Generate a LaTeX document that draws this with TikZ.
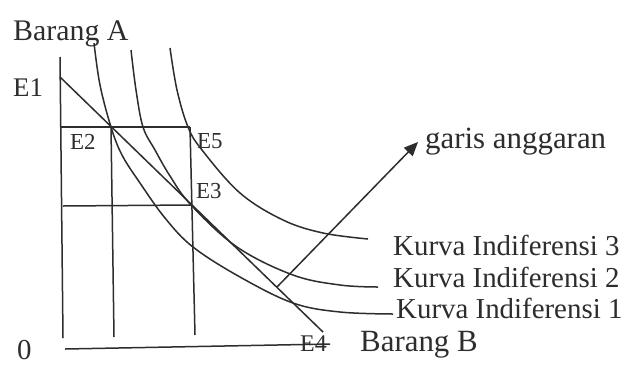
\documentclass[tikz,border=0pt]{standalone}
\usepackage{fontspec}
\setmainfont{Liberation Serif}
\usetikzlibrary{arrows.meta}
\definecolor{ink}{RGB}{45,45,45}
\tikzset{
  ln/.style={draw=ink, line width=1.5bp},
  lbl/.style={anchor=base west, inner sep=0pt, text=ink},
  big/.style={font=\fontsize{30}{32}\selectfont},
  mid/.style={font=\fontsize{29}{31}\selectfont},
  sml/.style={font=\fontsize{23}{25}\selectfont}
}
\begin{document}
\begin{tikzpicture}[x=1bp,y=-1bp]
\useasboundingbox[fill=white] (0,0) rectangle (625,365);
% key points
\coordinate (Atop) at (60,57);
\coordinate (Abot) at (63,338);
\coordinate (Bl) at (65,349);
\coordinate (Br) at (330,344);
\coordinate (E1p) at (60,77);
\coordinate (E4p) at (323,332);
\coordinate (H1l) at (60,127);
\coordinate (E2p) at (111,127);
\coordinate (E5p) at (190,127);
\coordinate (H2l) at (63,206);
\coordinate (E3p) at (191,205);
\coordinate (V1b) at (114,337);
\coordinate (V2b) at (195,335);
\coordinate (Ar0) at (277,287);
\coordinate (Ar1) at (418,142);
% axes
\draw[ln] (Atop) -- (Abot);
\draw[ln] (Bl) -- (Br);
% grid lines
\draw[ln] (H1l) -- (E5p);
\draw[ln] (H2l) -- (E3p);
\draw[ln] (E2p) -- (V1b);
\draw[ln] (E5p) -- (V2b);
% budget line
\draw[ln] (E1p) -- (E4p);
% indifference curves
\draw[ln] plot[smooth, tension=0.6] coordinates {(94,43) (100,85) (111,127) (122,155) (140,183) (165,218) (193,247) (240,277) (293,303) (340,312) (393,314)};
\draw[ln] plot[smooth, tension=0.6] coordinates {(131,50) (136,90) (143,127) (155,150) (170,176) (191,205) (237,247) (293,275) (340,285) (378,287)};
\draw[ln] plot[smooth, tension=0.6] coordinates {(170,48) (177,90) (188,127) (202,150) (240,193) (283,220) (323,233) (368,239)};
% arrow
\draw[ln, -{Triangle[length=14bp, width=12bp]}] (Ar0) -- (Ar1);
% labels
\node[lbl, big] (lA) at (13,40) {Barang A};
\node[lbl, font=\fontsize{27}{29}\selectfont] (lE1) at (13,96) {E1};
\node[lbl, sml] (lE2) at (70,149) {E2};
\node[lbl, sml] (lE5) at (197,148) {E5};
\node[lbl, sml] (lE3) at (196,198) {E3};
\node[lbl, font=\fontsize{24}{26}\selectfont] (lE4) at (300,351) {E4};
\node[lbl, font=\fontsize{31}{33}\selectfont] (lB) at (360,351) {Barang B};
\node[lbl, mid] (l0) at (17,359) {0};
\node[lbl, font=\fontsize{31}{33}\selectfont] (lg) at (425,148) {garis anggaran};
\node[lbl, mid] (k3) at (393,255) {Kurva Indiferensi 3};
\node[lbl, mid] (k2) at (393,287) {Kurva Indiferensi 2};
\node[lbl, mid] (k1) at (396,318) {Kurva Indiferensi 1};
\end{tikzpicture}
\end{document}
